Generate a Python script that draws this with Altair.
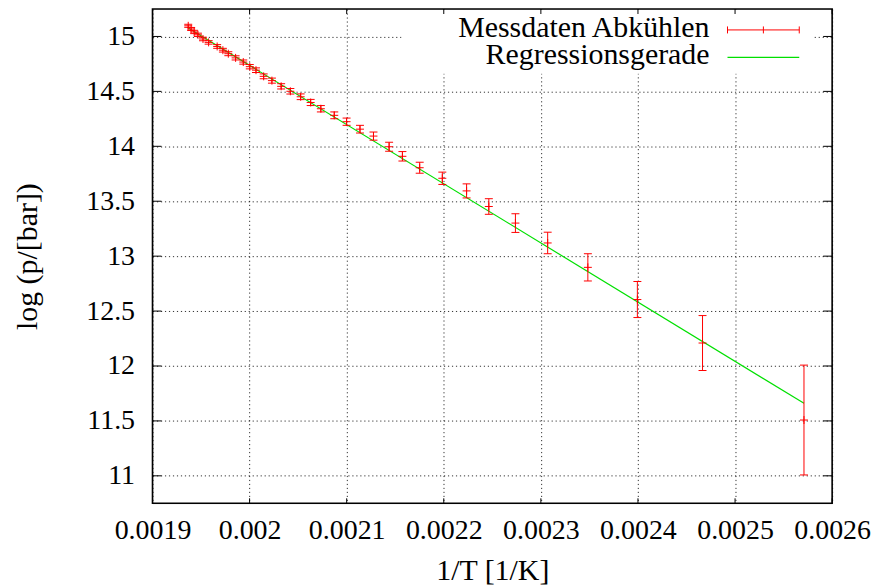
import altair as alt
import pandas as pd

# ---- data ----
inv_T = [0.0019368, 0.0019398, 0.0019429, 0.0019468, 0.0019520, 0.0019578,
         0.0019666, 0.0019725, 0.0019781, 0.0019856, 0.0019935, 0.0020002,
         0.0020066, 0.0020145, 0.0020230, 0.0020325, 0.0020420, 0.0020526,
         0.0020629, 0.0020734, 0.0020872, 0.0020999, 0.0021137, 0.0021276,
         0.0021437, 0.0021574, 0.0021752, 0.0021985, 0.0022235, 0.0022464,
         0.0022738, 0.0023070, 0.0023484, 0.0023994, 0.0024665, 0.0025710]
log_p = [15.097, 15.068, 15.041, 15.015, 14.977, 14.946,
         14.909, 14.875, 14.843, 14.805, 14.767, 14.725,
         14.693, 14.637, 14.598, 14.546, 14.501, 14.451,
         14.399, 14.342, 14.282, 14.224, 14.156, 14.093,
         13.996, 13.909, 13.805, 13.709, 13.594, 13.452,
         13.301, 13.120, 12.898, 12.605, 12.209, 11.508]
log_p_err = [0.014, 0.014, 0.015, 0.015, 0.016, 0.016,
             0.017, 0.017, 0.018, 0.019, 0.019, 0.020,
             0.021, 0.022, 0.023, 0.024, 0.025, 0.026,
             0.028, 0.029, 0.031, 0.033, 0.035, 0.037,
             0.041, 0.043, 0.050, 0.056, 0.064, 0.071,
             0.085, 0.098, 0.124, 0.164, 0.250, 0.500]
fit_x = [0.0019368, 0.0025710]
fit_y = [15.077, 11.660]
x_ticks = [0.0019, 0.002, 0.0021, 0.0022, 0.0023, 0.0024, 0.0025, 0.0026]
y_ticks = [11, 11.5, 12, 12.5, 13, 13.5, 14, 14.5, 15]
legend_labels = ["Messdaten Abkühlen", "Regressionsgerade"]
x_title = "1/T [1/K]"
y_title = "log (p/[bar])"

# ---- layout / style ----
W, H = 682, 496
FONT = "Liberation Serif"
RED = "#ff0000"
GREEN = "#00e000"

df = pd.DataFrame({"x": inv_T, "y": log_p, "e": log_p_err})
df["lo"] = df["y"] - df["e"]
df["hi"] = df["y"] + df["e"]
fit = pd.DataFrame({"x": fit_x, "y": fit_y})
xt = pd.DataFrame({"t": x_ticks})
yt = pd.DataFrame({"t": y_ticks})
one = pd.DataFrame({"a": [0]})

xs = alt.Scale(domain=[0.0019, 0.0026], nice=False, zero=False)
ys = alt.Scale(domain=[10.75, 15.25], nice=False, zero=False)

x_axis = alt.Axis(values=x_ticks, format="~g", title=x_title, grid=True,
                  gridDash=[1.2, 2.8], gridColor="#000000", gridOpacity=0.8,
                  ticks=False, tickSize=0, domain=False, labelFont=FONT,
                  labelFontSize=28, labelColor="black", labelBaseline="alphabetic",
                  labelPadding=35, labelFlush=False, labelOverlap=False,
                  titleFont=FONT, titleFontSize=30, titleFontWeight="normal",
                  titleColor="black", titleBaseline="alphabetic", titleY=76)
y_axis = alt.Axis(values=y_ticks, format="~g", title=y_title, grid=True,
                  gridDash=[1.2, 2.8], gridColor="#000000", gridOpacity=0.8,
                  ticks=False, tickSize=0, domain=False, labelFont=FONT,
                  labelFontSize=28, labelColor="black", labelPadding=18,
                  labelFlush=False, labelOverlap=False,
                  titleFont=FONT, titleFontSize=30, titleFontWeight="normal",
                  titleColor="black", titleBaseline="alphabetic",
                  titleX=-116, titleY=H / 2, titleAngle=270)

X = lambda f: alt.X(f, type="quantitative", scale=xs, axis=x_axis)
Y = lambda f: alt.Y(f, type="quantitative", scale=ys, axis=y_axis)

err_rule = alt.Chart(df).mark_rule(color=RED, strokeWidth=1).encode(
    x=X("x"), y=Y("lo"), y2="hi")
cap_lo = alt.Chart(df).mark_tick(color=RED, orient="horizontal", size=8,
                                 thickness=1, opacity=1).encode(x=X("x"), y=Y("lo"))
cap_hi = alt.Chart(df).mark_tick(color=RED, orient="horizontal", size=8,
                                 thickness=1, opacity=1).encode(x=X("x"), y=Y("hi"))
center = alt.Chart(df).mark_point(shape="M-1,0H1M0,-1V1", size=64, filled=False,
                                  color=RED, strokeWidth=1, opacity=1).encode(
    x=X("x"), y=Y("y"))
fit_line = alt.Chart(fit).mark_line(color=GREEN, strokeWidth=1.2).encode(
    x=X("x"), y=Y("y"))

# inward tick marks on all four sides
xt_bot = alt.Chart(xt).mark_rule(color="black", strokeWidth=1).encode(
    x=X("t"), y=alt.value(H), y2=alt.value(H - 5))
xt_top = alt.Chart(xt).mark_rule(color="black", strokeWidth=1).encode(
    x=X("t"), y=alt.value(0), y2=alt.value(5))
yt_left = alt.Chart(yt).mark_rule(color="black", strokeWidth=1).encode(
    y=Y("t"), x=alt.value(0), x2=alt.value(9))
yt_right = alt.Chart(yt).mark_rule(color="black", strokeWidth=1).encode(
    y=Y("t"), x=alt.value(W), x2=alt.value(W - 9))

# key (opaque white box without border)
key_box = alt.Chart(one).mark_rect(fill="white", stroke=None).encode(
    x=alt.value(250), x2=alt.value(662), y=alt.value(1), y2=alt.value(65))
key_t1 = alt.Chart(pd.DataFrame({"label": [legend_labels[0]]})).mark_text(
    font=FONT, fontSize=30, align="right", baseline="alphabetic", color="black").encode(
    text="label:N", x=alt.value(559), y=alt.value(28.5))
key_t2 = alt.Chart(pd.DataFrame({"label": [legend_labels[1]]})).mark_text(
    font=FONT, fontSize=30, align="right", baseline="alphabetic", color="black").encode(
    text="label:N", x=alt.value(559), y=alt.value(55))
key_err = alt.Chart(one).mark_rule(color=RED, strokeWidth=1).encode(
    x=alt.value(577), x2=alt.value(649), y=alt.value(21))
key_cap1 = alt.Chart(one).mark_rule(color=RED, strokeWidth=1).encode(
    x=alt.value(577), y=alt.value(17.5), y2=alt.value(24.5))
key_cap2 = alt.Chart(one).mark_rule(color=RED, strokeWidth=1).encode(
    x=alt.value(649), y=alt.value(17.5), y2=alt.value(24.5))
key_mid = alt.Chart(one).mark_rule(color=RED, strokeWidth=1).encode(
    x=alt.value(613), y=alt.value(17.5), y2=alt.value(24.5))
key_fit = alt.Chart(one).mark_rule(color=GREEN, strokeWidth=1.2).encode(
    x=alt.value(577), x2=alt.value(649), y=alt.value(48.5))

frame = alt.Chart(one).mark_rect(filled=False, stroke="black", strokeWidth=1.6).encode(
    x=alt.value(0), x2=alt.value(W), y=alt.value(0), y2=alt.value(H))

chart = alt.layer(
    fit_line, err_rule, cap_lo, cap_hi, center,
    key_box, key_t1, key_t2, key_err, key_cap1, key_cap2, key_mid, key_fit,
    xt_bot, xt_top, yt_left, yt_right, frame,
).properties(
    width=W, height=H,
    autosize=alt.AutoSizeParams(type="none"),
    padding={"left": 145, "top": 0, "right": 40, "bottom": 84},
).configure_view(stroke=None).configure(background="white")

chart.save("out.html", embed_options={"renderer": "svg", "actions": False})
